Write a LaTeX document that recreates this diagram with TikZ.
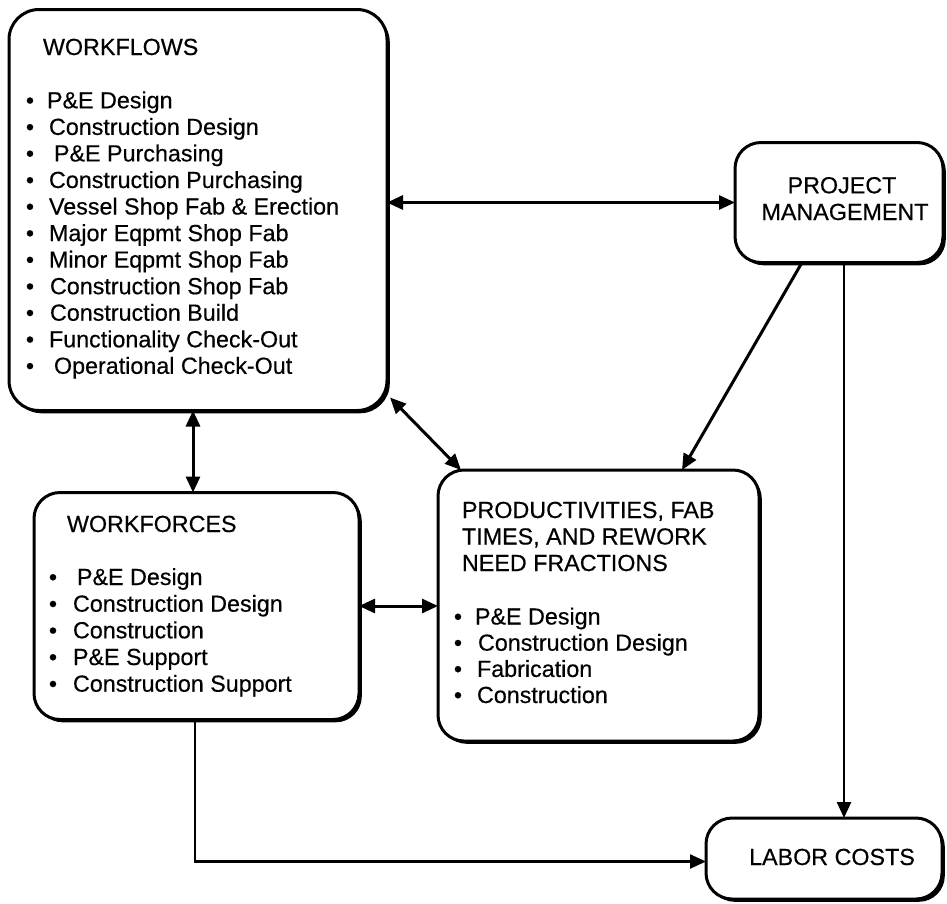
\documentclass[tikz,border=0pt]{standalone}
\usepackage{fontspec}
\setmainfont{Liberation Sans}[FakeBold=0.4]
\usetikzlibrary{arrows.meta,calc,shadows}
\begin{document}
\begin{tikzpicture}[x=1pt,y=-1pt,
  >={Triangle[length=16pt,width=14pt]},
  box/.style={draw=black, line width=3pt, rounded corners=#1, fill=white,
    inner sep=0pt, outer sep=0pt,
    general shadow={fill=black, shadow xshift=2.8pt, shadow yshift=-2.8pt}},
  box/.default=26pt,
  txt/.style={font=\fontsize{23.3}{26}\selectfont, inner sep=0pt, outer sep=0pt},
  conn/.style={line width=3pt},
  thinconn/.style={line width=2.4pt}
]
\useasboundingbox (0,0) rectangle (947,903);

% boxes
\node[box=30pt, minimum width=378pt, minimum height=401pt] (wf) at (198,210) {};
\node[box, minimum width=208pt, minimum height=120pt] (pm) at (839,202.5) {};
\node[box, minimum width=325pt, minimum height=227pt] (wfc) at (196.5,606) {};
\node[box, minimum width=321pt, minimum height=271pt] (pr) at (598.5,605.5) {};
\node[box, minimum width=236pt, minimum height=81pt] (lab) at (824,858.5) {};

% WORKFLOWS texts
\node[txt, anchor=base west] (wft) at (43,55) {WORKFLOWS};
\foreach \i/\b/\x/\t in {
  1/108.3/47/{P\&E Design},
  2/134.9/49/{Construction Design},
  3/161.4/54/{P\&E Purchasing},
  4/188.0/49/{Construction Purchasing},
  5/214.5/49/{Vessel Shop Fab \& Erection},
  6/241.1/49/{Major Eqpmt Shop Fab},
  7/267.6/49/{Minor Eqpmt Shop Fab},
  8/294.2/50/{Construction Shop Fab},
  9/320.7/50/{Construction Build},
  10/347.3/49/{Functionality Check-Out},
  11/373.8/54/{Operational Check-Out}} {
  \node[txt, anchor=base] (wfb\i) at (30,\b) {•};
  \node[txt, anchor=base west] (wfi\i) at (\x,\b) {\t};
}

% PROJECT MANAGEMENT
\node[txt, anchor=base] (pmt1) at (842,193.3) {PROJECT};
\node[txt, anchor=base] (pmt2) at (845,220) {MANAGEMENT};

% WORKFORCES texts
\node[txt, anchor=base west] (wfct) at (67,532) {WORKFORCES};
\foreach \i/\b/\x/\t in {
  1/585/77/{P\&E Design},
  2/611.7/73/{Construction Design},
  3/638.3/73/{Construction},
  4/665/73/{P\&E Support},
  5/691.7/73/{Construction Support}} {
  \node[txt, anchor=base] (wfcb\i) at (53,\b) {•};
  \node[txt, anchor=base west] (wfci\i) at (\x,\b) {\t};
}

% PRODUCTIVITIES texts
\node[txt, anchor=base west] (prt1) at (462,518) {PRODUCTIVITIES, FAB};
\node[txt, anchor=base west] (prt2) at (462,544.5) {TIMES, AND REWORK};
\node[txt, anchor=base west] (prt3) at (462,571) {NEED FRACTIONS};
\foreach \i/\b/\x/\t in {
  1/624.5/475/{P\&E Design},
  2/650.7/478/{Construction Design},
  3/676.9/477/{Fabrication},
  4/703/477/{Construction}} {
  \node[txt, anchor=base] (prb\i) at (458,\b) {•};
  \node[txt, anchor=base west] (pri\i) at (\x,\b) {\t};
}

% LABOR COSTS
\node[txt, anchor=base] (labt) at (832,865) {LABOR COSTS};

% connectors
\draw[conn, <->] (wf.east |- pm.west) -- (pm.west);
\draw[conn, ->] ($(pm.south)+(-37,0)$) -- ($(pr.north)+(83.5,0)$);
\draw[thinconn, ->] ($(pm.south)+(5,0)$) coordinate (pmd) -- (pmd |- lab.north);
\draw[conn, <->] ($(wf.south east)+(3,-13)$) -- ($(pr.north west)+(23,0)$);
\draw[conn, <->] ($(wf.south)+(-5,0)$) coordinate (wfd) -- (wfd |- wfc.north);
\draw[conn, <->] (wfc.east) -- (wfc.east -| pr.west);
\draw[thinconn, ->] ($(wfc.south)+(-1.5,0)$) coordinate (wfcd) -- ($(wfcd |- lab.west)+(0,3)$) coordinate (wfce) -- ($(wfce -| lab.west)$);
\end{tikzpicture}
\end{document}
